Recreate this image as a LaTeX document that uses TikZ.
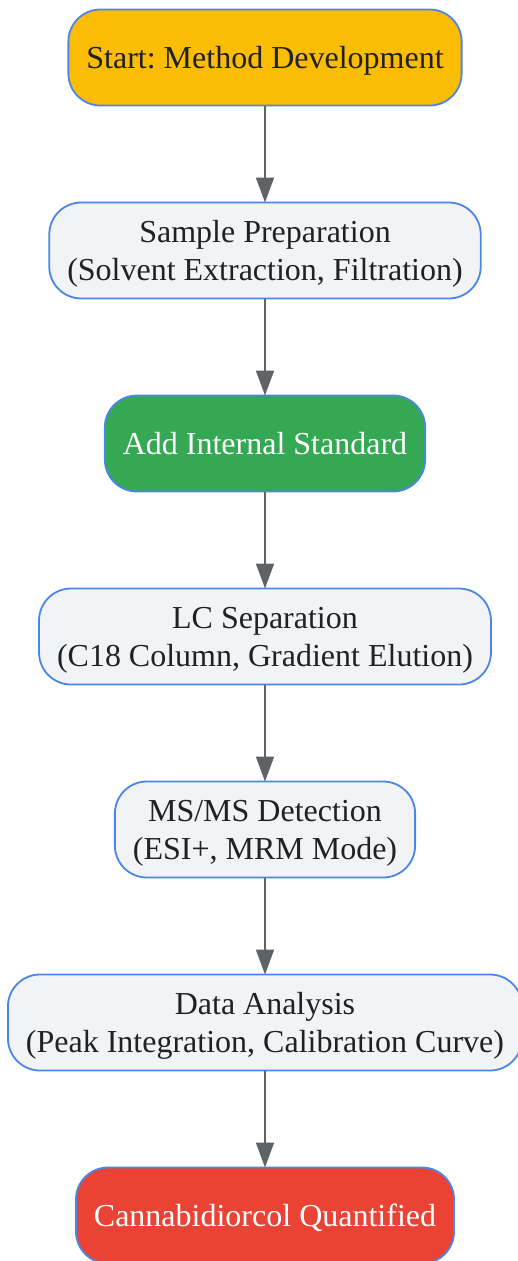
\documentclass[tikz,border=0pt]{standalone}
\usepackage{fontspec}
\setmainfont{Liberation Serif}
\usepackage{tikz}
\usetikzlibrary{arrows.meta,positioning}
\frenchspacing

\definecolor{startyellow}{HTML}{FBBC04}
\definecolor{stepgrey}{HTML}{F1F3F4}
\definecolor{addgreen}{HTML}{34A853}
\definecolor{endred}{HTML}{EA4335}
\definecolor{edgeblue}{HTML}{4A86E8}
\definecolor{arrowgrey}{HTML}{5F6368}
\definecolor{textdark}{HTML}{202124}

\begin{document}
\begin{tikzpicture}[
    node distance=97pt,
    box/.style={rectangle, rounded corners=32pt, minimum height=96pt, inner xsep=18pt, outer sep=0pt, text depth=0pt, align=center, draw=edgeblue, line width=1.8pt, font=\fontsize{32}{38}\selectfont, text=textdark},
    startbox/.style={box, fill=startyellow},
    stepbox/.style={box, fill=stepgrey},
    addbox/.style={box, fill=addgreen, text=white},
    endbox/.style={box, fill=endred, text=white},
    arrow/.style={line width=1.8pt, draw=arrowgrey, -{Triangle[length=25pt,width=18pt]}}
]
\useasboundingbox (0,0) rectangle (517pt,-1261pt);

% Nodes
\node (start) [startbox] at (265pt,-57.5pt) {Start: Method Development};
\node (prep) [stepbox, below=of start] {Sample Preparation\\(Solvent Extraction, Filtration)};
\node (istd) [addbox, below=of prep] {Add Internal Standard};
\node (lc) [stepbox, below=of istd] {LC Separation\\(C18 Column, Gradient Elution)};
\node (ms) [stepbox, below=of lc] {MS/MS Detection\\(ESI+, MRM Mode)};
\node (data) [stepbox, below=of ms] {Data Analysis\\(Peak Integration, Calibration Curve)};
\node (quant) [endbox, below=of data] {Cannabidiorcol Quantified};

% Arrows
\draw [arrow] (start) -- (prep);
\draw [arrow] (prep) -- (istd);
\draw [arrow] (istd) -- (lc);
\draw [arrow] (lc) -- (ms);
\draw [arrow] (ms) -- (data);
\draw [arrow] (data) -- (quant);

\end{tikzpicture}
\end{document}
